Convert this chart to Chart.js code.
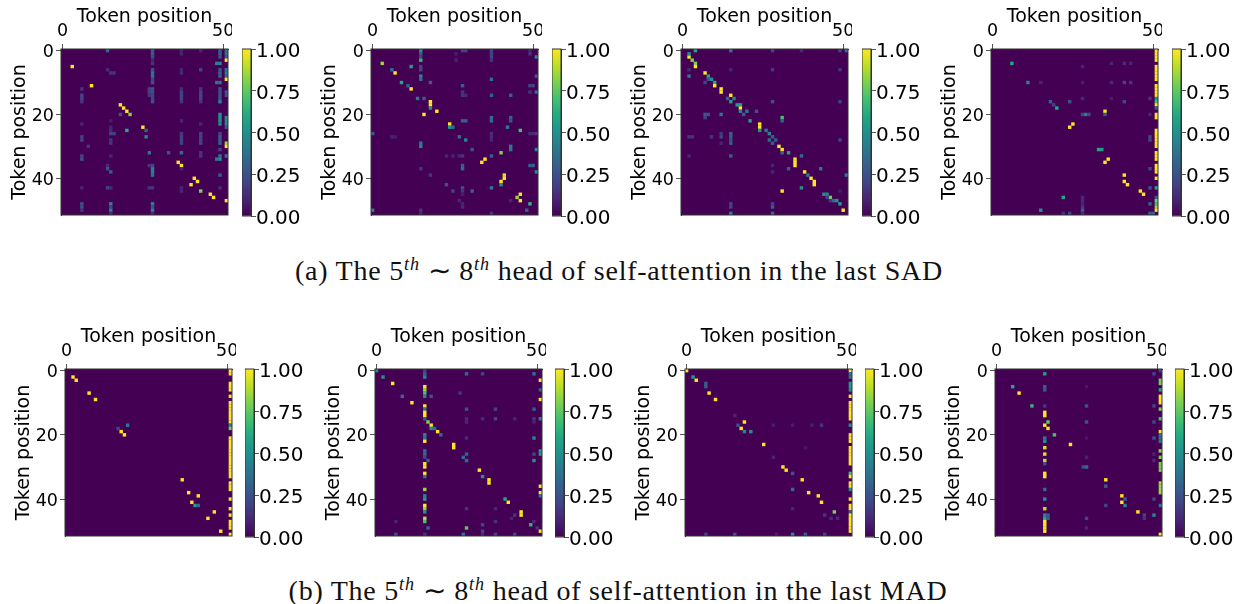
<!DOCTYPE html>
<html><head><meta charset="utf-8">
<script src="https://cdn.jsdelivr.net/npm/chart.js@4"></script>
<style>
html,body{margin:0;padding:0;background:#fff;width:1234px;height:604px;overflow:hidden}
canvas{position:absolute;display:block}
.cap{position:absolute;white-space:nowrap;font-family:"Liberation Serif",serif;font-size:28px;letter-spacing:.75px;color:#111;transform:translateX(-50%);line-height:30px}
.cap sup{font-style:italic;font-size:18px;line-height:0;vertical-align:10px;letter-spacing:1px}
</style></head><body>
<div class="cap" style="left:619px;top:256px">(a) The 5<sup>th</sup> ∼ 8<sup>th</sup> head of self-attention in the last SAD</div>
<div class="cap" style="left:618px;top:576px">(b) The 5<sup>th</sup> ∼ 8<sup>th</sup> head of self-attention in the last MAD</div>
<script>
const xTicks=[0,50];
const yTicks=[0,20,40];
const barTicks=[0,0.25,0.5,0.75,1];
const axisTitle="Token position";
const viridis=["#440154","#482475","#414487","#355f8d","#2a788e","#21918c","#22a884","#44bf70","#7ad151","#bddf26","#fde725"];
// each cell: [row, column, value]
const sad5=[[5,3,1],[11,9,1],[17,18,1],[18,19,1],[19,20,1],[20,21,.8],[20,18,.25],[24,25,1],[25,26,.3],[25,20,.6],[27,26,.45],
[32,27,.4],[32,33,.25],[32,37,.35],[35,36,1],[36,37,1],[40,41,1],[41,42,1],[42,40,1],[44,43,.8],[45,46,1],[46,47,1],[47,51,1],
[0,14,.35],[0,28,.3],[1,28,.3],[2,28,.25],[3,28,.1],[4,28,.15],[6,28,.25],[7,28,.4],[8,28,.4],[9,28,.2],[10,28,.25],[12,28,.25],[12,27,.2],[13,28,.25],[13,27,.2],[14,28,.2],[14,27,.15],[15,28,.2],[16,28,.25],
[37,28,.45],[38,28,.45],[39,28,.4],[36,27,.15],[36,28,.2],[43,27,.15],[43,28,.15],[48,28,.45],[49,28,.25],[50,28,.45],[51,28,.12],
[6,14,.12],[7,15,.15],[7,16,.15],[36,14,.12],[37,14,.25],[38,15,.3],[43,14,.2],[43,15,.12],[48,15,.45],[49,15,.2],[50,15,.45],[51,15,.12],[25,15,.12],[26,15,.2],[26,16,.2],[28,15,.15],[29,15,.15],[33,15,.1],[22,15,.08],[24,15,.1],
[0,37,.1],[1,37,.1],[6,37,.1],[7,37,.12],[12,37,.12],[13,37,.2],[14,37,.2],[15,37,.2],[16,37,.15],[22,37,.1],[26,37,.15],[27,37,.2],[28,37,.2],[29,37,.2],[37,37,.1],[43,37,.1],[44,37,.1],
[0,43,.1],[6,43,.2],[12,43,.15],[13,43,.2],[14,43,.2],[15,43,.2],[16,43,.15],[23,43,.1],[26,43,.2],[27,43,.2],[28,43,.2],[29,43,.2],[32,43,.15],[33,43,.15],
[12,6,.15],[14,6,.2],[15,6,.2],[16,6,.15],[23,6,.1],[27,6,.2],[28,6,.2],[30,8,.15],[33,6,.2],[34,6,.25],[43,6,.1],[48,6,.25],[49,6,.25],[50,6,.15],
[0,49,.3],[1,49,.3],[2,49,.25],[4,48,.45],[4,49,.45],[6,49,.25],[7,49,.3],[8,49,.3],[10,48,.4],[10,49,.4],[12,49,.25],[13,49,.25],[14,49,.25],[15,49,.25],[16,49,.45],[20,49,.5],[21,49,.5],[22,49,.5],[23,49,.45],[26,49,.2],[27,49,.3],[28,49,.3],[29,49,.3],[31,49,.2],[33,49,.35],[34,49,.5],[34,48,.4],[39,49,.3],[43,49,.12],
[0,51,.4],[1,51,.4],[2,51,.3],[3,51,1],[6,51,.4],[7,51,.45],[8,51,.35],[9,51,1],[21,51,.5],[22,51,.5],[23,51,.5],[24,51,.3],[29,51,.85],[30,51,1],[33,51,.4],[13,51,.3],[14,51,.25]];
const sad6=[[0,15,.5],[1,15,.3],[2,15,.2],[3,15,.65],[5,15,.2],[6,15,.2],[8,15,.45],[9,15,.35],[4,3,.85],[6,6,.35],[7,7,1],[5,12,.55],[10,9,.6],[11,11,.3],[12,12,1],[15,14,.4],[15,16,.3],[16,18,1],[17,18,1],[18,18,.5],[19,20,1],[20,16,1],[10,18,.3],
[23,24,1],[24,24,.5],[24,25,.35],[22,28,.3],[22,29,.3],[21,37,.35],[22,37,.35],[21,43,.3],[22,43,.25],[24,42,.4],[25,46,.7],[27,27,.35],[28,29,.45],[29,15,.4],[30,15,.45],[30,43,.4],[31,43,.4],[31,31,.25],[32,40,.8],[33,37,.3],[34,35,1],[35,34,1],[36,28,.3],[37,28,.35],[36,49,.3],[36,50,.3],[39,41,.95],[40,41,1],[41,40,1],[42,40,.5],[43,37,.4],[42,23,.25],[44,25,.2],[43,28,.25],[44,28,.15],[44,31,.3],[45,46,1],[46,45,.85],[47,46,1],[48,49,.65],[50,48,.3],[50,0,.45],[2,51,.5],[38,51,.5],[31,51,.5],[13,51,.4],[8,51,.3],[9,37,.35],[0,37,.2],[1,37,.2],[2,37,.2],[3,37,.15],[11,28,.3],[0,28,.2],[0,29,.2],[11,49,.2],[11,50,.2],[14,43,.3],[14,37,.3],[26,0,.3],[13,49,.15],[14,28,.15],[13,28,.15],[14,29,.12],[0,49,.1],[1,49,.15],[33,23,.1],[33,25,.1],[33,27,.1],[33,28,.15],[37,15,.15],[39,18,.15],[26,37,.12],[27,37,.12],[28,37,.1],[27,6,.1],[27,7,.08],[45,28,.08],[48,28,.1],[49,28,.12],[50,15,.15],[51,15,.1],[51,37,.15],[47,43,.1],[47,27,.1],[26,49,.12],[26,50,.12],[26,51,.15],[3,26,.1],[1,26,.08]];
const sad7=[[0,4,.6],[0,15,.4],[2,2,1],[1,2,.5],[3,3,.8],[4,4,.8],[5,4,1],[8,2,.4],[7,7,1],[8,8,.6],[9,9,.5],[10,10,.6],[11,10,1],[12,12,1],[13,12,1],[14,15,1],[15,14,.3],[15,16,.45],[16,15,.55],[17,17,.55],[17,18,.55],[18,18,1],[19,18,.45],[19,20,.4],[20,19,.3],[22,21,.55],[20,7,.3],[21,7,.2],[20,12,.4],[19,23,.25],[21,31,.7],[22,31,.3],[23,24,1],[24,24,1],[25,24,.5],[25,26,.4],[26,27,.45],[28,27,.35],[27,28,.3],[28,29,.3],[29,28,.3],[26,15,.3],[27,15,.3],[28,15,.25],[29,15,.3],[30,30,1],[31,31,1],[32,31,.35],[32,33,.55],[34,35,1],[35,35,1],[36,35,1],[33,37,.35],[33,15,.3],[37,43,.4],[37,33,.3],[38,38,1],[39,39,.4],[40,40,1],[41,41,1],[42,41,1],[43,37,.5],[44,31,1],[45,44,.5],[45,45,.45],[46,46,.8],[47,47,.35],[47,48,.5],[48,49,.55],[50,50,1],[39,51,.45],[48,15,.2],[49,15,.2],[49,28,.3],[48,28,.2],[51,28,.35],[51,15,.45],[16,28,.25],[16,49,.2],[0,28,.2],[0,49,.2],[0,51,.4],[6,28,.15],[6,49,.15],[6,15,.1],[6,2,.12],[20,8,.25],[9,8,.25],[10,7,.2],[27,2,.15],[27,3,.15],[27,9,.15],[27,12,.2],[26,12,.15],[29,12,.1],[28,49,.2],[33,2,.1],[36,28,.1],[38,28,.1],[44,49,.08],[46,45,.2],[47,46,.15],[0,37,.12]];
const sad8=[[4,6,.6],[10,11,.45],[16,18,.3],[17,19,.2],[18,20,.6],[20,29,.45],[20,28,.2],[20,30,.2],[19,35,1],[20,35,.3],[23,25,1],[24,24,1],[31,33,.6],[31,34,.55],[34,36,1],[35,35,1],[39,41,1],[41,41,1],[42,42,1],[44,46,1],[45,47,1],[46,22,.6],[50,15,.5],[46,28,.12],[47,28,.12],[48,28,.1],[49,28,.15],[50,28,.3],[51,28,.12],[16,24,.25],[15,28,.12],[5,28,.1],[10,28,.08],[10,15,.1],[10,37,.12],[10,41,.2],[10,43,.15],[4,37,.1],[4,41,.12],[4,43,.1],[16,41,.2],[15,37,.08],
[0,51,1],[1,51,1],[2,51,1],[3,51,1],[5,51,1],[6,51,1],[7,51,1],[8,51,1],[9,51,1],[11,51,1],[12,51,1],[13,51,1],[14,51,1],[15,51,.5],[16,51,.7],[17,51,1],[18,51,.3],[20,51,1],[21,51,1],[25,51,1],[26,51,1],[27,51,1],[28,51,1],[29,51,1],[30,51,1],[32,51,1],[33,51,1],[34,51,1],[36,51,1],[37,51,1],[38,51,1],[40,51,1],[43,51,.6],[46,51,.3],[47,51,.8],[48,51,.7],[49,51,.85],[50,51,1],
[27,49,.2],[28,49,.2],[37,49,.2],[43,49,.25],[48,49,.3],[51,49,.3],[51,50,.3],[20,49,.1],[51,24,.2],[51,22,.15],[15,49,.15]];
const mad5=[[2,2,1],[3,3,1],[7,7,1],[9,9,1],[18,16,.2],[19,17,1],[20,18,1],[17,19,.4],[34,36,1],[38,38,1],[39,41,1],[41,39,1],[42,40,.55],[42,41,.35],[44,46,1],[46,44,1],[50,48,1],
[0,51,1],[1,51,1],[4,51,1],[5,51,1],[6,51,1],[8,51,1],[10,51,1],[11,51,1],[12,51,1],[13,51,1],[14,51,1],[15,51,1],[16,51,1],[17,51,.45],[18,51,.8],[21,51,1],[22,51,1],[23,51,1],[24,51,1],[25,51,1],[26,51,1],[27,51,1],[28,51,1],[29,51,1],[30,51,1],[31,51,1],[32,51,1],[33,51,1],[35,51,1],[36,51,1],[37,51,1],[40,51,1],[43,51,1],[45,51,1],[47,51,1],[48,51,1],[49,51,1],[51,51,1]];
const mad6=[[0,0,.5],[2,2,.5],[4,5,1],[8,8,.35],[10,11,1],[0,15,.2],[1,15,.3],[2,15,.45],[5,15,1],[6,15,.85],[7,15,.7],[8,15,.45],[11,15,1],[12,15,.4],[13,15,1],[14,15,1],[15,15,.3],[20,15,.45],[21,15,.4],[22,15,1],[25,15,.35],[26,15,.35],[27,15,.2],[29,15,1],[30,15,1],[32,15,1],[33,15,.4],[37,15,.85],[39,15,.45],[40,15,.55],[42,15,1],[43,15,.85],[44,15,.5],[46,15,.9],[47,15,.7],[49,16,.3],[16,16,.8],[17,17,1],[18,17,.5],[18,18,.4],[19,19,1],[20,20,.35],[28,16,.3],[8,17,.25],[23,24,1],[24,24,1],[27,27,.35],[26,28,.3],[28,28,.35],[1,28,.35],[1,49,.35],[1,33,.2],[31,32,1],[33,33,.5],[34,35,1],[35,35,1],[40,40,.6],[41,41,1],[44,45,1],[45,45,1],[48,48,.65],[49,28,.75],[21,49,.45],[28,49,.5],[26,49,.2],[12,28,.25],[12,49,.3],[12,37,.2],[15,37,.2],[15,33,.12],[15,43,.1],[15,28,.12],[15,49,.15],[16,49,.1],[16,28,.1],[21,28,.12],[7,26,.15],[43,28,.15],[43,37,.1],[47,6,.1],[47,37,.15],[48,33,.2],[3,51,1],[6,51,.3],[9,51,1],[15,51,.45],[25,51,.55],[26,51,.55],[36,51,1],[38,51,1],[39,51,.4],[50,51,1],[51,27,.4],[51,6,.25],[51,15,.15],[51,43,.2],[51,37,.2],[50,33,.2],[51,33,.12],[49,50,.15],[47,49,.12],[46,42,.1],[45,43,.15]];
const mad7=[[0,0,1],[2,2,.55],[3,3,1],[4,6,.3],[5,6,.3],[7,7,1],[9,9,1],[16,18,1],[17,16,.25],[18,17,1],[19,18,.45],[19,20,.5],[23,24,1],[30,30,1],[31,31,1],[32,33,.25],[34,36,1],[37,33,.35],[38,38,1],[39,41,1],[41,42,1],[44,46,.8],[45,43,.15],[46,47,.12],[46,45,.12],[51,33,.5],[51,37,.3],[51,15,.25],[51,6,.2],[51,43,.2],[17,42,.15],[14,15,.1],[17,27,.08],[17,33,.08],[17,39,.08],[27,27,.1],[24,37,.06],[43,33,.1],[51,28,.08],
[0,51,1],[1,51,.4],[2,51,.4],[4,51,.55],[5,51,.55],[6,51,.5],[8,51,1],[10,51,1],[11,51,1],[12,51,1],[13,51,1],[14,51,1],[15,51,1],[17,51,.5],[20,51,1],[21,51,1],[22,51,1],[24,51,1],[25,51,1],[26,51,1],[27,51,1],[28,51,1],[29,51,1],[32,51,.7],[33,51,1],[35,51,1],[36,51,1],[37,51,.5],[40,51,1],[42,51,1],[43,51,1],[44,51,.3],[45,51,1],[46,51,1],[47,51,1],[48,51,1],[49,51,1],[50,51,1]];
const mad8=[[1,15,.55],[5,15,.3],[6,15,.3],[5,5,.6],[7,7,1],[11,11,.65],[11,15,.15],[13,15,1],[14,15,1],[16,16,.75],[17,15,1],[18,16,1],[20,18,.7],[21,15,.4],[22,15,.5],[23,23,1],[24,15,.95],[26,15,.95],[28,15,.9],[29,15,.25],[32,15,1],[33,15,1],[37,15,.35],[40,15,.5],[43,15,.9],[45,15,.45],[46,15,.6],[47,15,1],[48,15,1],[49,15,1],[50,15,1],[45,16,.3],[46,16,.3],[11,28,.25],[16,28,.25],[30,28,.35],[30,27,.25],[46,28,.2],[49,28,.1],[27,28,.1],[21,28,.06],[5,28,.06],[34,34,1],[36,34,.3],[39,39,1],[41,39,1],[40,40,.3],[42,40,.45],[42,34,.2],[44,44,1],[45,46,.2],[46,46,.15],[45,49,.45],[11,49,.2],[16,49,.2],[21,49,.25],[40,49,.2],[1,49,.2],[26,49,.1],[28,49,.12],
[0,51,.2],[3,51,.8],[4,51,.8],[6,51,.6],[8,51,1],[9,51,1],[10,51,1],[12,51,.8],[15,51,.7],[19,51,1],[20,51,.4],[21,51,.4],[22,51,.4],[25,51,.85],[27,51,.8],[29,51,.8],[30,51,.8],[31,51,.8],[35,51,.85],[36,51,.85],[37,51,.85],[38,51,.85],[42,51,.4],[51,51,1]];

function hexRgb(h){return [1,3,5].map(i=>parseInt(h.substr(i,2),16));}
function colorOf(v){
  const p=Math.min(1,Math.max(0,v))*(viridis.length-1),i=Math.min(viridis.length-2,Math.floor(p)),f=p-i;
  const a=hexRgb(viridis[i]),b=hexRgb(viridis[i+1]);
  return `rgb(${a.map((c,k)=>Math.round(c+(b[k]-c)*f)).join(",")})`;
}
const frameColor="#333";
const framePlugin={id:"frame",
  beforeDatasetsDraw(c,a,o){if(o.fill){const r=c.chartArea;c.ctx.save();c.ctx.fillStyle=o.fill;c.ctx.fillRect(r.left,r.top,r.width,r.height);c.ctx.restore();}},
  afterDraw(c){const r=c.chartArea,x=c.ctx;x.save();x.strokeStyle=frameColor;x.lineWidth=1;x.strokeRect(r.left,r.top,r.width,r.height);x.restore();}};
const tickFont={family:"DejaVu Sans",size:17.5};
const titleFont={family:"DejaVu Sans",size:19};
function mount(l,t,w,h){const c=document.createElement("canvas");c.width=w;c.height=h;c.style.left=l+"px";c.style.top=t+"px";c.style.width=w+"px";c.style.height=h+"px";document.body.appendChild(c);return c;}
const noPad=s=>{s.paddingLeft=s.paddingRight=s.paddingTop=s.paddingBottom=0;};

function heat(cells,px,py,pw,ph){
  const L=60,T=49;
  const cv=mount(px-L,py-T,L+pw+3,T+ph+3);
  new Chart(cv,{type:"scatter",plugins:[framePlugin],
    data:{datasets:[{data:cells.map(c=>({x:c[1],y:c[0],v:c[2]})),pointStyle:"rect",pointRadius:1.06*pw/52/Math.SQRT2,pointBorderWidth:0,borderWidth:0,
      pointBackgroundColor:ctx=>colorOf(ctx.raw?ctx.raw.v:0)}]},
    options:{responsive:false,animation:false,devicePixelRatio:1,events:[],
      layout:{padding:{left:0,top:0,right:3,bottom:3}},
      plugins:{legend:{display:false},tooltip:{enabled:false},frame:{fill:viridis[0]}},
      scales:{
        x:{type:"linear",position:"top",min:-0.5,max:51.5,
          afterBuildTicks:s=>{s.ticks=xTicks.map(v=>({value:v}));},afterFit:s=>{s.height=T;noPad(s);},
          grid:{drawOnChartArea:false,tickLength:5,tickColor:"#555"},border:{color:frameColor},
          ticks:{font:tickFont,color:"#000",padding:2,maxRotation:0,autoSkip:false},
          title:{display:true,text:axisTitle,font:titleFont,color:"#000",padding:{top:6,bottom:0}}},
        y:{type:"linear",reverse:true,min:-0.5,max:51.5,
          afterBuildTicks:s=>{s.ticks=yTicks.map(v=>({value:v}));},afterFit:s=>{s.width=L;noPad(s);},
          grid:{drawOnChartArea:false,tickLength:5,tickColor:"#555"},border:{color:frameColor},
          ticks:{font:tickFont,color:"#000",padding:2,autoSkip:false,labelOffset:2},
          title:{display:true,text:axisTitle,font:titleFont,color:"#000",padding:{top:8,bottom:0}}}
      }}});
}
function bar(px,py,pw,ph){
  const pad=16;
  const cv=mount(px,py-pad,pw+70,ph+2*pad);
  new Chart(cv,{type:"bar",plugins:[framePlugin],
    data:{labels:[""],datasets:[{data:[[0,1]],barPercentage:1,categoryPercentage:1,borderWidth:0,
      backgroundColor:ctx=>{const a=ctx.chart.chartArea;if(!a)return viridis[0];
        const g=ctx.chart.ctx.createLinearGradient(0,a.bottom,0,a.top);
        viridis.forEach((c,i)=>g.addColorStop(i/(viridis.length-1),c));return g;}}]},
    options:{responsive:false,animation:false,devicePixelRatio:1,events:[],
      layout:{padding:{left:0,top:pad,right:0,bottom:pad}},
      plugins:{legend:{display:false},tooltip:{enabled:false}},
      scales:{
        x:{display:false},
        y:{position:"right",min:0,max:1,
          afterBuildTicks:s=>{s.ticks=barTicks.map(v=>({value:v}));},afterFit:s=>{s.width=70;noPad(s);},
          grid:{drawOnChartArea:false,tickLength:5,tickColor:"#555"},border:{color:frameColor},
          ticks:{font:{family:"DejaVu Sans",size:20},color:"#000",padding:0,autoSkip:false,labelOffset:3,callback:v=>Number(v).toFixed(2)}}
      }}});
}
const topPanels=[sad5,sad6,sad7,sad8];
const bottomPanels=[mad5,mad6,mad7,mad8];
topPanels.forEach((p,i)=>{heat(p,61+310*i,49,168,167);bar(242+310*i,49,9,167);});
bottomPanels.forEach((p,i)=>{heat(p,65+310*i,369,168,168);bar(245+310*i,369,9,168);});
</script>
</body></html>
